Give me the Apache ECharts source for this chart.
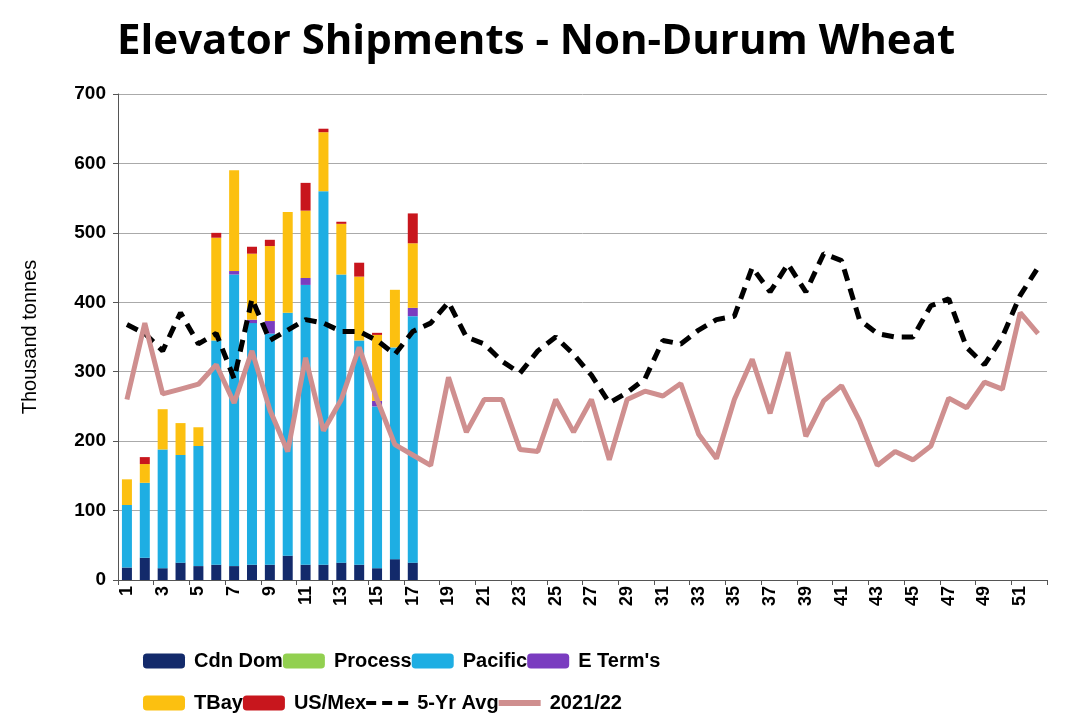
<!DOCTYPE html>
<html><head><meta charset="utf-8">
<script src="https://cdn.jsdelivr.net/npm/echarts@6/dist/echarts.min.js"></script>
<style>html,body{margin:0;background:#fff}#c{width:1078px;height:724px}</style>
</head><body><div id="c"></div>
<script>
const weeks = Array.from({length:52},(_,i)=>String(i+1));
const cdnDom = [18,32,17,25,20,22,20,22,22,35,22,22,25,22,17,30,25];
const process = [0,0,0,0,0,0,0,0,0,0,0,0,0,0,0,0,0];
const pacific = [90,108,171,155,173,323,420,348,333,350,403,538,415,323,233,305,355];
const eTerm = [0,0,0,0,0,0,5,5,18,0,10,0,0,0,8,0,12];
const tbay = [37,27,58,46,27,148,145,95,108,145,97,85,73,92,95,83,93];
const usMex = [0,10,0,0,0,7,0,10,9,0,40,5,3,20,3,0,43];
const avg5 = [368,355,330,385,340,355,290,405,345,360,375,370,358,358,345,325,358,370,400,350,340,315,298,330,350,325,295,255,270,290,345,340,360,375,380,450,415,455,415,470,460,375,355,350,350,395,405,335,310,350,410,450];
const cur = [260,370,268,275,282,310,255,330,245,185,320,215,260,335,260,195,180,165,292,213,260,260,188,185,260,213,260,173,260,272,265,283,210,175,260,318,240,328,207,258,280,230,165,185,173,193,262,248,285,275,385,355];
const ch = echarts.init(document.getElementById('c'));
const bar = (name,data,color)=>({name,type:'bar',stack:'s',data,barWidth:10,itemStyle:{color}});
const legBase = {left:138,itemGap:0,itemWidth:42,itemHeight:15,
  textStyle:{fontSize:20,fontWeight:'bold',color:'#000',width:150,padding:[0,0,0,4]}};
ch.setOption({
  animation:false,
  textStyle:{fontFamily:'Liberation Sans'},
  title:{text:'Elevator Shipments - Non-Durum Wheat',left:112,top:16,textStyle:{fontSize:42,fontWeight:'bold',color:'#000',fontFamily:'Open Sans'}},
  grid:{left:118,right:31,top:94,bottom:144},
  legend:[
    Object.assign({top:646,data:["Cdn Dom","Process","Pacific","E Term's"]},legBase),
    Object.assign({top:688,data:["TBay","US/Mex",{name:'5-Yr Avg',icon:'path://M0,6h10v4h-10zM16,6h10v4h-10zM32,6h10v4h-10z'},{name:'2021/22',icon:'path://M0,5h42v6h-42z'}]},legBase)
  ],
  xAxis:{type:'category',data:weeks,axisTick:{show:true,lineStyle:{color:'#555'}},
    axisLine:{lineStyle:{color:'#555'}},
    axisLabel:{interval:1,rotate:90,margin:6,fontSize:18,fontWeight:'bold',color:'#000'}},
  yAxis:{type:'value',min:0,max:700,interval:100,name:'Thousand tonnes',nameLocation:'middle',nameGap:78,
    nameTextStyle:{fontSize:20,color:'#000'},
    axisLine:{show:true,lineStyle:{color:'#555'}},axisTick:{show:true},
    axisLabel:{fontSize:19,fontWeight:'bold',color:'#000',margin:12},splitLine:{lineStyle:{color:'#aaa'}}},
  series:[
    bar('Cdn Dom',cdnDom,'#132a6b'),
    bar('Process',process,'#92d050'),
    bar('Pacific',pacific,'#1eaee3'),
    bar("E Term's",eTerm,'#7a3cc0'),
    bar('TBay',tbay,'#fcc010'),
    bar('US/Mex',usMex,'#c8161d'),
    {name:'5-Yr Avg',type:'line',data:avg5,symbol:'none',lineStyle:{color:'#000',width:5,type:[12,8]},itemStyle:{color:'#000'}},
    {name:'2021/22',type:'line',data:cur,symbol:'none',lineStyle:{color:'#cf8f8f',width:5},itemStyle:{color:'#cf8f8f'}}
  ]
});
</script></body></html>
